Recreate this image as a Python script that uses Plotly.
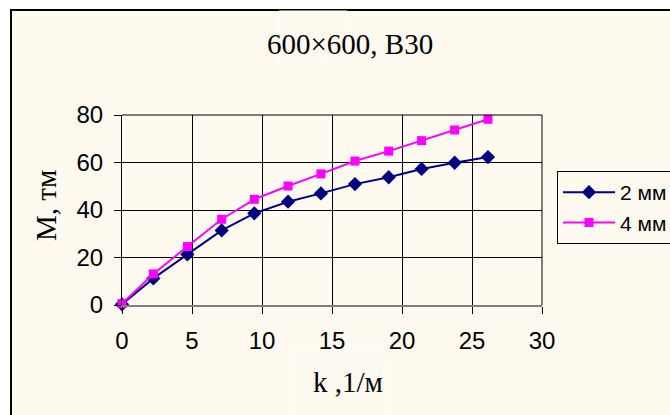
import plotly.graph_objects as go

k_vals = [0, 2.24, 4.67, 7.12, 9.45, 11.86, 14.21, 16.64, 19.05, 21.4, 23.76, 26.14]
m_2mm = [0.3, 11.2, 21.3, 31.4, 38.6, 43.5, 47.0, 50.9, 53.8, 57.3, 59.9, 62.3]
m_4mm = [0.6, 13.1, 24.6, 36.1, 44.5, 50.1, 55.2, 60.6, 64.8, 69.2, 73.7, 78.2]
series_names = ["2 мм", "4 мм"]
x_ticks = [0, 5, 10, 15, 20, 25, 30]
y_ticks = [0, 20, 40, 60, 80]

W, H = 670, 415
L, R, T, B = 122, 542, 115, 305  # plot area in pixels
pw, ph = R - L, B - T

def px(x):
    return (x - L) / pw

def py(y):
    return (B - y) / ph

cream = "#FFFAF0"
fig = go.Figure()
fig.add_trace(go.Scatter(x=k_vals, y=m_2mm, name=series_names[0], mode="lines+markers",
                         line=dict(color="#000080", width=2),
                         marker=dict(symbol="diamond", size=11, color="#000080"),
                         cliponaxis=False))
fig.add_trace(go.Scatter(x=k_vals, y=m_4mm, name=series_names[1], mode="lines+markers",
                         line=dict(color="#FF00FF", width=2),
                         marker=dict(symbol="square", size=9, color="#FF00FF"),
                         cliponaxis=False))

tick_font = dict(family="Liberation Sans, Arial", size=24, color="black")
leg_font = dict(family="Liberation Sans, Arial", size=21, color="black")
serif = "Liberation Serif, Times New Roman"
fig.update_layout(
    width=W, height=H,
    margin=dict(l=L, r=W - R, t=T, b=H - B, autoexpand=False),
    paper_bgcolor="white", plot_bgcolor=cream,
    showlegend=True,
    legend=dict(x=px(557), y=py(171), xanchor="left", yanchor="top",
                bgcolor=cream, bordercolor="black", borderwidth=1,
                font=leg_font, itemwidth=52, tracegroupgap=0),
    xaxis=dict(range=[0, 30], tickvals=x_ticks, ticks="outside", ticklen=7,
               tickcolor="black", showgrid=True, gridcolor="black", gridwidth=1,
               showline=True, linecolor="#808080", linewidth=2, zeroline=False,
               tickfont=tick_font, ticklabelstandoff=6, fixedrange=True),
    yaxis=dict(range=[0, 80], tickvals=y_ticks, ticks="outside", ticklen=7,
               tickcolor="black", showgrid=True, gridcolor="black", gridwidth=1,
               showline=True, linecolor="black", linewidth=1, zeroline=False,
               tickfont=tick_font, ticklabelstandoff=6, fixedrange=True),
    shapes=[
        dict(type="rect", xref="paper", yref="paper", layer="below",
             x0=px(11), x1=px(720), y0=py(460), y1=py(10),
             fillcolor=cream, line=dict(color="black", width=2)),
        dict(type="rect", xref="paper", yref="paper", layer="below",
             x0=px(279), x1=px(347), y0=py(62), y1=py(11),
             fillcolor="rgba(0,0,0,0)", line=dict(color="white", width=1)),
        dict(type="rect", xref="paper", yref="paper", layer="below",
             x0=px(293), x1=px(389), y0=py(440), y1=py(352),
             fillcolor="rgba(0,0,0,0)", line=dict(color="white", width=1)),
        dict(type="line", xref="paper", yref="paper", layer="above",
             x0=0, x1=1, y0=1, y1=1, line=dict(color="black", width=1)),
        dict(type="line", xref="paper", yref="paper", layer="above",
             x0=1, x1=1, y0=0, y1=1, line=dict(color="black", width=1)),
    ],
    annotations=[
        dict(text="600×600, B30", xref="paper", yref="paper", x=px(350), y=py(44),
             xanchor="center", yanchor="middle",
             showarrow=False, font=dict(family=serif, size=29, color="black")),
        dict(text="M, тм", xref="paper", yref="paper", x=px(46), y=py(206), textangle=-90,
             xanchor="center", yanchor="middle",
             showarrow=False, font=dict(family=serif, size=29, color="black")),
        dict(text="k ,1/м", xref="paper", yref="paper", x=px(348), y=py(382),
             xanchor="center", yanchor="middle",
             showarrow=False, font=dict(family=serif, size=29, color="black")),
    ],
)
fig.write_html("out.html")
